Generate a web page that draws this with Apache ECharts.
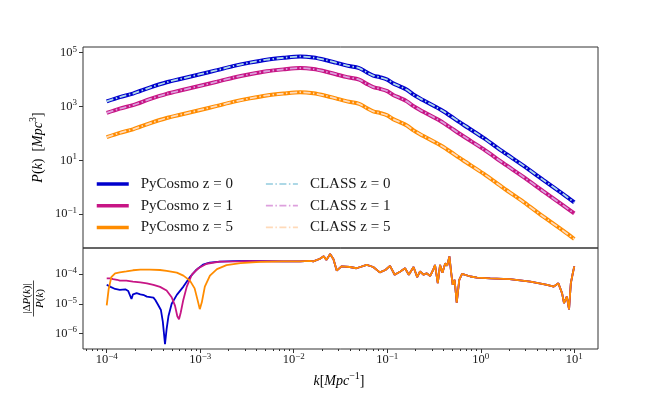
<!DOCTYPE html>
<html>
<head>
<meta charset="utf-8">
<script src="https://cdn.jsdelivr.net/npm/echarts@6/dist/echarts.min.js"></script>
<style>
html, body { margin: 0; padding: 0; background: #fff; }
#chart { width: 664px; height: 399px; }
</style>
</head>
<body>
<div id="chart"></div>
<script>
// k in Mpc^-1, shared by the three power spectra
const kVals = [1.00e-4, 1.38e-4, 1.91e-4, 2.88e-4, 4.37e-4, 6.61e-4, 1.00e-3, 1.51e-3, 2.24e-3, 3.39e-3,
    5.13e-3, 7.76e-3, 1.17e-2, 1.62e-2, 2.24e-2, 2.82e-2, 3.72e-2, 5.01e-2, 6.03e-2, 7.08e-2,
    8.32e-2, 0.100, 0.117, 0.138, 0.162, 0.191, 0.224, 0.263, 0.324, 0.398,
    0.646, 1.07, 1.74, 2.88, 4.68, 7.59, 10.0];

// P(k) [Mpc^3]
const pkZ0 = [1549, 2239, 3020, 5012, 7943, 11220, 15850, 22390, 31620, 42660,
    54950, 64570, 72440, 66070, 52480, 42660, 33110, 26920, 18620, 14130,
    12300, 10000, 7079, 5495, 4169, 2754, 1995, 1479, 1000, 660.7,
    213.8, 67.61, 20.42, 6.166, 1.820, 0.5495, 0.2692];
const pkZ1 = [575.4, 831.8, 1122, 1862, 2951, 4169, 5888, 8318, 11750, 15850,
    20420, 23990, 26920, 24550, 19500, 15850, 12300, 10000, 6918, 5248,
    4571, 3715, 2630, 2042, 1549, 1023, 741.3, 549.5, 371.5, 245.5,
    79.43, 25.70, 7.762, 2.344, 0.6918, 0.2089, 0.1047];
const pkZ5 = [72.44, 104.7, 141.3, 234.4, 371.5, 524.8, 741.3, 1047, 1479, 1995,
    2570, 3020, 3388, 3090, 2455, 1995, 1549, 1259, 871.0, 660.7,
    575.4, 467.7, 331.1, 257.0, 195.0, 128.8, 93.33, 69.18, 46.77, 30.90,
    10.00, 3.162, 0.9333, 0.2754, 0.07943, 0.02399, 0.01175];

// |dP/P|, low k part of each redshift
const kDiffZ0 = [1.00e-4, 1.10e-4, 1.23e-4, 1.38e-4, 1.58e-4, 1.70e-4, 1.78e-4, 1.84e-4, 1.91e-4, 2.09e-4,
    2.29e-4, 2.51e-4, 2.69e-4, 3.16e-4, 3.31e-4, 3.55e-4, 3.80e-4, 3.98e-4, 4.20e-4, 4.37e-4,
    4.57e-4, 4.95e-4, 5.62e-4, 6.61e-4, 7.76e-4, 9.12e-4, 1.07e-3, 1.26e-3, 1.62e-3, 2.24e-3, 3.39e-3];
const diffZ0 = [4.37e-5, 3.72e-5, 3.16e-5, 2.95e-5, 3.09e-5, 2.69e-5, 2.57e-5, 1.45e-5, 2.09e-5, 2.29e-5,
    2.09e-5, 1.95e-5, 1.74e-5, 1.62e-5, 1.35e-5, 9.12e-6, 6.17e-6, 2.51e-6, 4.37e-7, 1.41e-6,
    3.80e-6, 1.00e-5, 2.00e-5, 3.80e-5, 7.94e-5, 1.41e-4, 2.09e-4, 2.45e-4, 2.63e-4, 2.75e-4, 2.82e-4];

const kDiffZ1 = [1.00e-4, 1.10e-4, 1.17e-4, 1.29e-4, 1.38e-4, 1.62e-4, 1.91e-4, 2.29e-4, 2.69e-4, 3.16e-4,
    3.72e-4, 4.37e-4, 4.95e-4, 5.37e-4, 5.69e-4, 5.93e-4, 6.18e-4, 6.59e-4, 7.18e-4, 8.13e-4,
    9.55e-4, 1.17e-3, 1.62e-3, 2.69e-3, 3.39e-3];
const diffZ1 = [7.24e-5, 7.24e-5, 6.76e-5, 6.46e-5, 6.03e-5, 6.03e-5, 5.62e-5, 5.25e-5, 4.90e-5, 4.37e-5,
    3.72e-5, 2.82e-5, 1.66e-5, 8.71e-6, 3.80e-6, 3.02e-6, 5.01e-6, 1.35e-5, 3.80e-5, 9.55e-5,
    1.58e-4, 2.24e-4, 2.63e-4, 2.69e-4, 2.75e-4];

const kDiffZ5 = [1.00e-4, 1.05e-4, 1.12e-4, 1.23e-4, 1.38e-4, 1.62e-4, 1.91e-4, 2.29e-4, 2.88e-4, 3.72e-4,
    4.37e-4, 5.62e-4, 6.61e-4, 7.76e-4, 8.71e-4, 9.33e-4, 9.89e-4, 1.04e-3, 1.12e-3, 1.27e-3,
    1.51e-3, 1.91e-3, 2.69e-3, 4.37e-3];
const diffZ5 = [8.91e-6, 3.16e-5, 7.94e-5, 1.07e-4, 1.15e-4, 1.23e-4, 1.35e-4, 1.41e-4, 1.41e-4, 1.38e-4,
    1.29e-4, 1.12e-4, 8.91e-5, 6.03e-5, 3.31e-5, 1.41e-5, 6.61e-6, 1.12e-5, 3.80e-5, 8.91e-5,
    1.48e-4, 2.00e-4, 2.34e-4, 2.57e-4];

// above k ~ 0.008 the three curves lie on top of each other
const kDiffTail = [7.76e-3, 1.17e-2, 1.48e-2, 1.62e-2, 1.91e-2, 2.09e-2, 2.24e-2, 2.45e-2, 2.66e-2, 2.88e-2,
    3.24e-2, 3.98e-2, 4.68e-2, 6.03e-2, 7.08e-2, 8.32e-2, 9.55e-2, 0.107, 0.120, 0.138,
    0.155, 0.170, 0.191, 0.209, 0.224, 0.245, 0.263, 0.288, 0.309, 0.324,
    0.347, 0.367, 0.389, 0.417, 0.437, 0.462, 0.479, 0.501, 0.525, 0.553,
    0.589, 0.631, 0.776, 0.912, 1.26, 2.04, 3.39, 5.13, 6.03, 6.76,
    7.41, 7.76, 8.32, 8.79, 9.18, 9.64, 10.0];
const diffTail = [2.69e-4, 2.69e-4, 2.82e-4, 2.69e-4, 3.31e-4, 3.98e-4, 3.02e-4, 4.79e-4, 3.16e-4, 1.32e-4,
    1.82e-4, 1.74e-4, 1.58e-4, 2.04e-4, 1.74e-4, 1.15e-4, 1.38e-4, 1.91e-4, 9.55e-5, 1.23e-4,
    1.58e-4, 9.55e-5, 1.74e-4, 7.94e-5, 1.23e-4, 9.55e-5, 1.07e-4, 8.71e-5, 1.38e-4, 2.04e-4,
    5.01e-5, 2.04e-4, 1.12e-4, 2.34e-4, 1.91e-4, 3.98e-4, 1.38e-4, 4.37e-5, 6.46e-5, 1.10e-5,
    6.46e-5, 1.02e-4, 8.32e-5, 7.59e-5, 7.24e-5, 6.76e-5, 5.62e-5, 4.37e-5, 3.80e-5, 4.90e-5,
    2.24e-5, 1.05e-5, 1.74e-5, 6.46e-6, 4.90e-5, 1.07e-4, 1.82e-4];

// ticks
const kTicks = [1e-4, 1e-3, 1e-2, 1e-1, 1, 10];
const kMinorTicks = [6e-5, 7e-5, 8e-5, 9e-5,
    2e-4, 3e-4, 4e-4, 5e-4, 6e-4, 7e-4, 8e-4, 9e-4,
    2e-3, 3e-3, 4e-3, 5e-3, 6e-3, 7e-3, 8e-3, 9e-3,
    2e-2, 3e-2, 4e-2, 5e-2, 6e-2, 7e-2, 8e-2, 9e-2,
    0.2, 0.3, 0.4, 0.5, 0.6, 0.7, 0.8, 0.9,
    2, 3, 4, 5, 6, 7, 8, 9];
const pkTicks = [1e-1, 1e1, 1e3, 1e5];
const diffTicks = [1e-6, 1e-5, 1e-4];

const pyNames = ['PyCosmo z = 0', 'PyCosmo z = 1', 'PyCosmo z = 5'];
const classNames = ['CLASS z = 0', 'CLASS z = 1', 'CLASS z = 5'];
const pyColors = ['#0000cd', '#c71585', '#ff8c00'];
const classColors = ['#add8e6', '#dda0dd', '#ffdab9'];

const FONT = 'Liberation Serif';
const TXT = '#1a1a1a';

function pairs(xs, ys) {
    return xs.map((x, i) => [x, ys[i]]);
}

function powLabel(v) {
    const e = Math.round(Math.log10(v));
    return '{b|10}{s|' + (e < 0 ? '\u2212' + (-e) : e) + '}';
}

const tickRich = {
    b: { fontFamily: FONT, fontSize: 12.5, lineHeight: 16, color: TXT },
    s: { fontFamily: FONT, fontSize: 9, lineHeight: 9, verticalAlign: 'top', color: TXT }
};
const titleRich = {
    n: { fontFamily: FONT, fontSize: 14, lineHeight: 20, color: TXT },
    i: { fontFamily: FONT, fontSize: 14, lineHeight: 20, fontStyle: 'italic', color: TXT },
    s: { fontFamily: FONT, fontSize: 10, lineHeight: 11, verticalAlign: 'top', color: TXT }
};
const fracRich = {
    n: { fontFamily: FONT, fontSize: 11, color: TXT },
    i: { fontFamily: FONT, fontSize: 11, fontStyle: 'italic', color: TXT }
};

const kMin = 5.577e-5, kMax = 17.93;
const pkData = [pkZ0, pkZ1, pkZ5];
const diffData = [
    pairs(kDiffZ0.concat(kDiffTail), diffZ0.concat(diffTail)),
    pairs(kDiffZ1.concat(kDiffTail), diffZ1.concat(diffTail)),
    pairs(kDiffZ5.concat(kDiffTail), diffZ5.concat(diffTail))
];

const series = [];
pyNames.forEach((name, i) => {
    series.push({
        name: name, type: 'line', xAxisIndex: 0, yAxisIndex: 0,
        data: pairs(kVals, pkData[i]), symbol: 'none', smooth: 0.3,
        lineStyle: { color: pyColors[i], width: 4 }, itemStyle: { color: pyColors[i] }, z: 2
    });
});
classNames.forEach((name, i) => {
    series.push({
        name: name, type: 'line', xAxisIndex: 0, yAxisIndex: 0,
        data: pairs(kVals, pkData[i]), symbol: 'none', smooth: 0.3,
        lineStyle: { color: classColors[i], width: 1.8, type: [7, 2.5, 1.5, 2.5] },
        itemStyle: { color: classColors[i] }, z: 3
    });
});
diffData.forEach((d, i) => {
    series.push({
        name: 'diff ' + i, type: 'line', xAxisIndex: 1, yAxisIndex: 1,
        data: d, symbol: 'none',
        lineStyle: { color: pyColors[i], width: 1.8 }, itemStyle: { color: pyColors[i] }, z: 2
    });
});

// legend shows only the line, no marker
const legendBase = {
    orient: 'vertical', top: 176, padding: 0, itemWidth: 32, itemHeight: 16, itemGap: 5.7,
    selectedMode: false,
    itemStyle: { opacity: 0, borderWidth: 0 },
    textStyle: { fontFamily: FONT, fontSize: 15, color: TXT, lineHeight: 16, padding: [0, 0, 0, 7] }
};

const chart = echarts.init(document.getElementById('chart'));
chart.setOption({
    animation: false,
    backgroundColor: '#fff',
    grid: [
        { left: 83, top: 47, width: 515, height: 201, show: true, borderColor: '#333', borderWidth: 1 },
        { left: 83, top: 248, width: 515, height: 101, show: true, borderColor: '#333', borderWidth: 1 }
    ],
    legend: [
        Object.assign({}, legendBase, { data: pyNames, left: 95, lineStyle: { width: 3.5 } }),
        Object.assign({}, legendBase, { data: classNames, left: 265, lineStyle: { width: 1.8 } })
    ],
    xAxis: [
        {
            gridIndex: 0, type: 'log', min: kMin, max: kMax,
            axisLine: { show: false }, axisTick: { show: false }, axisLabel: { show: false }, splitLine: { show: false }
        },
        {
            gridIndex: 1, type: 'log', min: kMin, max: kMax, position: 'bottom',
            axisLine: { show: false }, splitLine: { show: false },
            axisTick: { customValues: kTicks, length: 4, lineStyle: { color: '#333' } },
            axisLabel: { customValues: kTicks, formatter: powLabel, rich: tickRich, margin: 3 }
        },
        {
            gridIndex: 1, type: 'log', min: kMin, max: kMax, position: 'bottom', offset: 0,
            axisLine: { show: false }, splitLine: { show: false }, axisLabel: { show: false },
            axisTick: { customValues: kMinorTicks, length: 2, lineStyle: { color: '#333' } }
        }
    ],
    yAxis: [
        {
            gridIndex: 0, type: 'log', min: 5.43e-3, max: 1.63e5,
            axisLine: { show: false }, splitLine: { show: false },
            axisTick: { customValues: pkTicks, length: 4, lineStyle: { color: '#333' } },
            axisLabel: { customValues: pkTicks, formatter: powLabel, rich: tickRich, margin: 6 }
        },
        {
            gridIndex: 1, type: 'log', min: 3.0e-7, max: 7.6e-4,
            axisLine: { show: false }, splitLine: { show: false },
            axisTick: { customValues: diffTicks, length: 4, lineStyle: { color: '#333' } },
            axisLabel: { customValues: diffTicks, formatter: powLabel, rich: tickRich, margin: 6 }
        }
    ],
    graphic: [
        {
            type: 'text', x: 38.5, y: 147.5, rotation: Math.PI / 2,
            style: {
                text: '{i|P}{n|(}{i|k}{n|)  [}{i|Mpc}{s|3}{n|]}',
                rich: titleRich, align: 'center', verticalAlign: 'middle'
            }
        },
        {
            type: 'text', x: 339, y: 381,
            style: {
                text: '{i|k}{n|[}{i|Mpc}{s|\u22121}{n|]}',
                rich: titleRich, align: 'center', verticalAlign: 'middle'
            }
        },
        {
            type: 'group', x: 33.5, y: 298.5, rotation: Math.PI / 2,
            children: [
                {
                    type: 'text', x: 0, y: -6,
                    style: { text: '{n||\u0394}{i|P}{n|(}{i|k}{n|)|}', rich: fracRich, align: 'center', verticalAlign: 'middle' }
                },
                {
                    type: 'line', shape: { x1: -18, y1: 0, x2: 18, y2: 0 },
                    style: { stroke: TXT, lineWidth: 0.8 }
                },
                {
                    type: 'text', x: 0, y: 7,
                    style: { text: '{i|P}{n|(}{i|k}{n|)}', rich: fracRich, align: 'center', verticalAlign: 'middle' }
                }
            ]
        }
    ],
    series: series
});
</script>
</body>
</html>
